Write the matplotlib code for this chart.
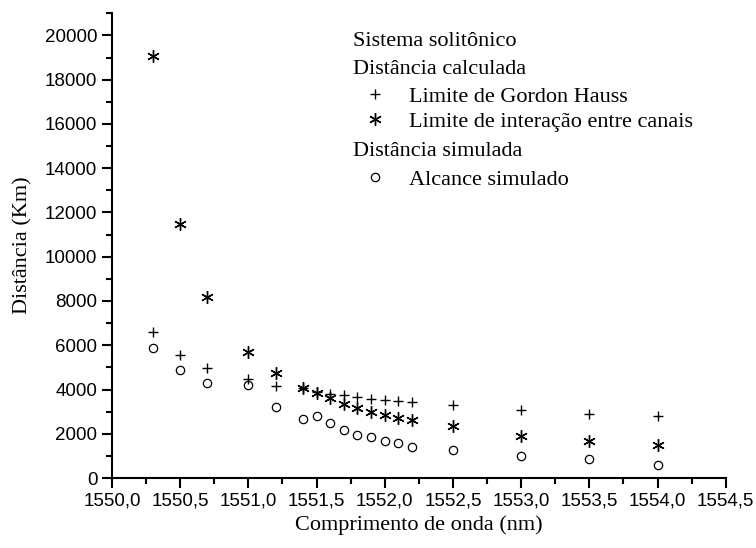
import numpy as np
import matplotlib
matplotlib.use("Agg")
import matplotlib.pyplot as plt
from matplotlib.ticker import MultipleLocator, FuncFormatter
from matplotlib.lines import Line2D

# comprimento de onda (nm)
wl = [1550.3, 1550.5, 1550.7, 1551.0, 1551.2, 1551.4, 1551.5, 1551.6, 1551.7,
      1551.8, 1551.9, 1552.0, 1552.1, 1552.2, 1552.5, 1553.0, 1553.5, 1554.0]

# distancias (Km)
gordon_hauss = [6615, 5580, 4990, 4480, 4165, 4050, 3900, 3800, 3740,
                3660, 3580, 3540, 3480, 3420, 3280, 3080, 2915, 2825]
interacao = [19060, 11475, 8170, 5715, 4765, 4090, 3835, 3610, 3350,
             3160, 3005, 2855, 2720, 2600, 2330, 1910, 1655, 1475]
simulado = [5895, 4900, 4285, 4195, 3200, 2645, 2810, 2495, 2150,
            1955, 1850, 1655, 1605, 1400, 1265, 1005, 855, 600]

serif = "Liberation Serif"
sans = "Liberation Sans"
asterisk = (6, 2, 0)

fig = plt.figure(figsize=(7.56, 5.48), dpi=100)
ax = fig.add_axes([0.148, 0.1277, 0.812, 0.848])

ax.plot(wl, gordon_hauss, ls="none", marker="+", ms=7, mew=1, color="black")
ax.plot(wl, interacao, ls="none", marker=asterisk, ms=9, mew=1, color="black")
ax.plot(wl, simulado, ls="none", marker="o", ms=6, mew=0.9,
        mfc="none", mec="black")

ax.set_xlim(1550.0, 1554.5)
ax.set_ylim(0, 21000)
ax.xaxis.set_major_locator(MultipleLocator(0.5))
ax.xaxis.set_minor_locator(MultipleLocator(0.25))
ax.yaxis.set_major_locator(MultipleLocator(2000))
ax.yaxis.set_minor_locator(MultipleLocator(1000))
ax.xaxis.set_major_formatter(FuncFormatter(lambda v, p: f"{v:.1f}".replace(".", ",")))
ax.yaxis.set_major_formatter(FuncFormatter(lambda v, p: f"{v:.0f}"))

ax.spines["top"].set_visible(False)
ax.spines["right"].set_visible(False)
for s in ("left", "bottom"):
    ax.spines[s].set_linewidth(1.5)
ax.tick_params(which="major", direction="out", length=7, width=1.5, labelsize=13.5)
ax.tick_params(which="minor", direction="out", length=4, width=1.5)
for lab in ax.get_xticklabels() + ax.get_yticklabels():
    lab.set_fontfamily(sans)

ax.set_xlabel("Comprimento de onda (nm)", fontfamily=serif, fontsize=16, labelpad=4)
ax.set_ylabel("Distância (Km)", fontfamily=serif, fontsize=16, labelpad=9)

# legenda
hx = 353 / 756
fig.text(hx, 1 - 42 / 548, "Sistema solitônico", fontfamily=serif, fontsize=16, va="center")
fig.text(hx, 1 - 69 / 548, "Distância calculada", fontfamily=serif, fontsize=16, va="center")
fig.text(hx, 1 - 151 / 548, "Distância simulada", fontfamily=serif, fontsize=16, va="center")

h1 = [Line2D([], [], ls="none", marker="+", ms=7, mew=1, color="black"),
      Line2D([], [], ls="none", marker=asterisk, ms=9, mew=1, color="black")]
leg1 = ax.legend(h1, ["Limite de Gordon Hauss", "Limite de interação entre canais"],
                 loc="upper left", bbox_to_anchor=(362 / 756, 1 - 86 / 548),
                 bbox_transform=fig.transFigure, frameon=False,
                 prop={"family": serif, "size": 16}, handlelength=1.2,
                 handletextpad=0.9, labelspacing=0.22, borderpad=0, borderaxespad=0)
ax.add_artist(leg1)
h2 = [Line2D([], [], ls="none", marker="o", ms=6, mew=0.9, mfc="none", mec="black")]
ax.legend(h2, ["Alcance simulado"],
          loc="upper left", bbox_to_anchor=(362 / 756, 1 - 169 / 548),
          bbox_transform=fig.transFigure, frameon=False,
          prop={"family": serif, "size": 16}, handlelength=1.2,
          handletextpad=0.9, borderpad=0, borderaxespad=0)

fig.savefig("out.png", dpi=100)
